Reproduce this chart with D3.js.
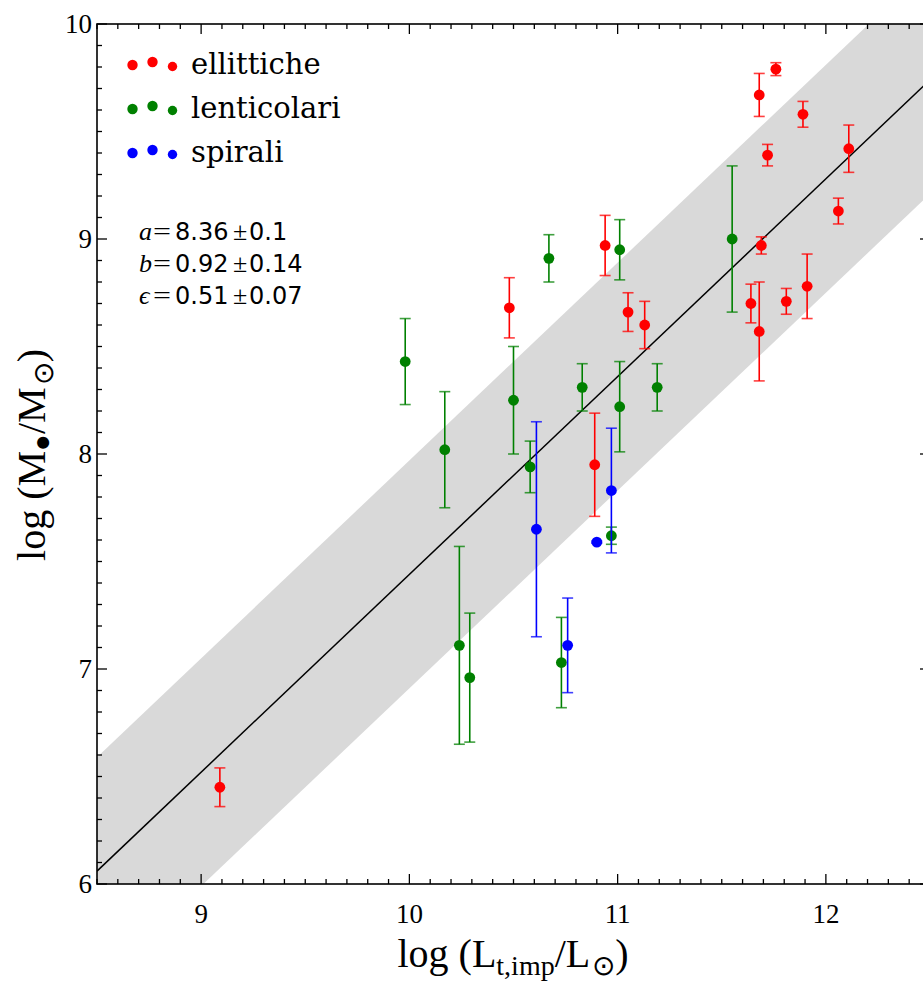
<!DOCTYPE html>
<html>
<head>
<meta charset="utf-8">
<script src="https://cdn.jsdelivr.net/npm/d3@7"></script>
<style>
html,body{margin:0;padding:0;background:#fff;overflow:hidden;}
</style>
</head>
<body>
<svg id="chart" width="923" height="983"></svg>
<script>
// ---- data ----
const ellX   = [9.09, 10.48, 10.89, 10.94, 11.05, 11.13, 11.64, 11.68, 11.68, 11.69, 11.72, 11.76, 11.81, 11.89, 11.91, 12.06, 12.11];
const ellY   = [6.45, 8.68, 7.95, 8.97, 8.66, 8.60, 8.70, 8.57, 9.67, 8.97, 9.39, 9.79, 8.71, 9.58, 8.78, 9.13, 9.42];
const ellErr = [0.09, 0.14, 0.24, 0.14, 0.09, 0.11, 0.09, 0.23, 0.10, 0.04, 0.05, 0.03, 0.06, 0.06, 0.15, 0.06, 0.11];

const lenX   = [9.98, 10.17, 10.24, 10.29, 10.50, 10.58, 10.67, 10.73, 10.83, 10.97, 11.01, 11.01, 11.19, 11.55];
const lenY   = [8.43, 8.02, 7.11, 6.96, 8.25, 7.94, 8.91, 7.03, 8.31, 7.62, 8.95, 8.22, 8.31, 9.00];
const lenErr = [0.20, 0.27, 0.46, 0.30, 0.25, 0.12, 0.11, 0.21, 0.11, 0.04, 0.14, 0.21, 0.11, 0.34];

const spiX   = [10.61, 10.76, 10.90, 10.97];
const spiY   = [7.65, 7.11, 7.59, 7.83];
const spiErr = [0.50, 0.22, 0.005, 0.29];

const seriesNames  = ["ellittiche", "lenticolari", "spirali"];
const seriesColors = ["#ff0000", "#008000", "#0000ff"];

const fitA = 8.36, fitB = 0.92, fitX0 = 11.0, fitEps = 0.53;
const fitSymbols = ["a", "b", "\u03f5"];
const fitValues  = ["8.36", "0.92", "0.51"];
const fitErrors  = ["0.1", "0.14", "0.07"];

const xTicks = [9, 10, 11, 12];
const yTicks = [6, 7, 8, 9, 10];

// ---- layout ----
const svg = d3.select("#chart");
const x = d3.scaleLinear().domain([8.5, 12.5]).range([97, 930]);
const y = d3.scaleLinear().domain([6, 10]).range([884, 24]);

const defs = svg.append("defs");
defs.append("clipPath").attr("id", "clip")
  .append("rect").attr("x", x(8.5)).attr("y", y(10)).attr("width", x(12.5) - x(8.5)).attr("height", y(6) - y(10));

const plot = svg.append("g").attr("clip-path", "url(#clip)");

// band
const xs = [8.5, 12.5];
const fit = v => fitA + fitB * (v - fitX0);
const bandPts = [
  [x(xs[0]), y(fit(xs[0]) + fitEps)], [x(xs[1]), y(fit(xs[1]) + fitEps)],
  [x(xs[1]), y(fit(xs[1]) - fitEps)], [x(xs[0]), y(fit(xs[0]) - fitEps)]
];
plot.append("polygon").attr("points", bandPts.map(p => p.join(",")).join(" ")).attr("fill", "#d9d9d9");
plot.append("line")
  .attr("x1", x(xs[0])).attr("y1", y(fit(xs[0])))
  .attr("x2", x(xs[1])).attr("y2", y(fit(xs[1])))
  .attr("stroke", "#000").attr("stroke-width", 1.5);

// series
const series = [
  {xv: ellX, yv: ellY, ev: ellErr, c: seriesColors[0]},
  {xv: lenX, yv: lenY, ev: lenErr, c: seriesColors[1]},
  {xv: spiX, yv: spiY, ev: spiErr, c: seriesColors[2]}
];
series.forEach(s => {
  const g = plot.append("g");
  const data = s.xv.map((v, i) => ({x: v, y: s.yv[i], e: s.ev[i]}));
  data.forEach(d => {
    g.append("line").attr("x1", x(d.x)).attr("x2", x(d.x))
      .attr("y1", y(d.y + d.e)).attr("y2", y(d.y - d.e))
      .attr("stroke", s.c).attr("stroke-width", 1.6);
    [d.y + d.e, d.y - d.e].forEach(v => {
      g.append("line").attr("x1", x(d.x) - 5.5).attr("x2", x(d.x) + 5.5)
        .attr("y1", y(v)).attr("y2", y(v))
        .attr("stroke", s.c).attr("stroke-width", 1.6).attr("stroke-opacity", 0.75);
    });
  });
  g.selectAll("circle").data(data).enter().append("circle")
    .attr("cx", d => x(d.x)).attr("cy", d => y(d.y)).attr("r", 5.4)
    .attr("fill", s.c);
});

// axes (ticks inward on all four sides)
const axG = svg.append("g");
const minorX = d3.range(85, 126).map(v => v / 10);
const minorY = d3.range(60, 101).map(v => v / 10);
minorX.forEach(v => {
  const major = Math.abs(v - Math.round(v)) < 1e-9;
  const len = major ? 10 : 5;
  axG.append("line").attr("x1", x(v)).attr("x2", x(v)).attr("y1", y(6)).attr("y2", y(6) - len).attr("stroke", "#000").attr("stroke-width", 1.3);
  axG.append("line").attr("x1", x(v)).attr("x2", x(v)).attr("y1", y(10)).attr("y2", y(10) + len).attr("stroke", "#000").attr("stroke-width", 1.3);
});
minorY.forEach(v => {
  const major = Math.abs(v - Math.round(v)) < 1e-9;
  const len = major ? 10 : 5;
  axG.append("line").attr("x1", x(8.5)).attr("x2", x(8.5) + len).attr("y1", y(v)).attr("y2", y(v)).attr("stroke", "#000").attr("stroke-width", 1.3);
  axG.append("line").attr("x1", x(12.5)).attr("x2", x(12.5) - len).attr("y1", y(v)).attr("y2", y(v)).attr("stroke", "#000").attr("stroke-width", 1.3);
});
axG.append("rect").attr("x", x(8.5)).attr("y", y(10)).attr("width", x(12.5) - x(8.5)).attr("height", y(6) - y(10))
  .attr("fill", "none").attr("stroke", "#000").attr("stroke-width", 1.6);

const tickFont = "'Liberation Serif', serif";
axG.selectAll("text.xt").data(xTicks).enter().append("text").attr("class", "xt")
  .attr("x", d => x(d)).attr("y", 923).attr("text-anchor", "middle")
  .attr("font-family", tickFont).attr("font-size", 27).text(d => d);
axG.selectAll("text.yt").data(yTicks).enter().append("text").attr("class", "yt")
  .attr("x", 92).attr("y", d => y(d) + 9).attr("text-anchor", "end")
  .attr("font-family", tickFont).attr("font-size", 27).text(d => d);

// axis titles
const xt = svg.append("text").attr("x", 513).attr("y", 967).attr("text-anchor", "middle")
  .attr("font-family", tickFont).attr("font-size", 40);
xt.append("tspan").text("log (L");
xt.append("tspan").attr("font-size", 28).attr("dy", 8).text("t,imp");
xt.append("tspan").attr("dy", -8).text("/L");
xt.append("tspan").attr("font-size", 28).attr("dy", 8).attr("dx", 2).attr("font-family", "'DejaVu Sans', sans-serif").attr("font-weight", 200).text("\u2299");
xt.append("tspan").attr("dy", -8).text(")");

const yt = svg.append("text").attr("transform", "translate(45,455) rotate(-90)").attr("text-anchor", "middle")
  .attr("font-family", tickFont).attr("font-size", 40);
yt.append("tspan").text("log (M");
yt.append("tspan").attr("font-size", 28).attr("dy", 6).text("\u25cf");
yt.append("tspan").attr("dy", -6).text("/M");
yt.append("tspan").attr("font-size", 28).attr("dy", 8).attr("dx", 2).attr("font-family", "'DejaVu Sans', sans-serif").attr("font-weight", 200).text("\u2299");
yt.append("tspan").attr("dy", -8).text(")");

// legend
const legDx = [132.5, 152.5, 172.5];
const legDy = [1, -2, 2.5];
const legR = [5.2, 5.2, 4.7];
const legY0 = 64, legStep = 44;
seriesNames.forEach((n, i) => {
  const cy = legY0 + i * legStep;
  legDx.forEach((dx, j) => {
    svg.append("circle").attr("cx", dx).attr("cy", cy + legDy[j]).attr("r", legR[j]).attr("fill", seriesColors[i]);
  });
  svg.append("text").attr("x", 191).attr("y", cy + 10).attr("font-family", "'DejaVu Serif', serif")
    .attr("font-size", 29).text(n);
});

// fit parameter text
fitSymbols.forEach((sym, i) => {
  const by = 240 + i * 32;
  const g = svg.append("g");
  g.append("text").attr("x", 139).attr("y", by).attr("font-family", "'Liberation Serif', serif")
    .attr("font-style", "italic").attr("font-size", 26).text(sym);
  g.append("text").attr("x", 153).attr("y", by).attr("font-family", "'Liberation Serif', serif")
    .attr("font-size", 26).attr("textLength", 18).attr("lengthAdjust", "spacingAndGlyphs").text("=");
  g.append("text").attr("x", 175).attr("y", by).attr("font-family", "'DejaVu Sans', sans-serif")
    .attr("font-size", 24).text(fitValues[i]);
  g.append("text").attr("x", 233).attr("y", by).attr("font-family", "'Liberation Serif', serif")
    .attr("font-size", 26).text("\u00b1");
  g.append("text").attr("x", 249).attr("y", by).attr("font-family", "'DejaVu Sans', sans-serif")
    .attr("font-size", 24).text(fitErrors[i]);
});
</script>
</body>
</html>
